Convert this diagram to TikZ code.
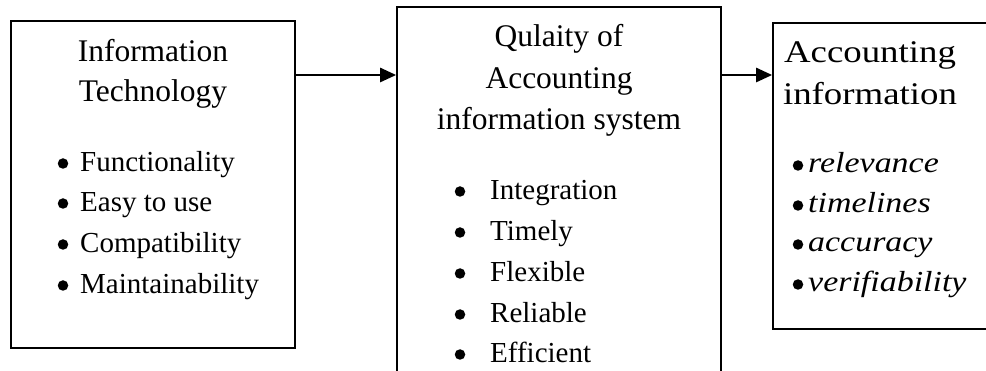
\documentclass[tikz,border=0pt]{standalone}
\usepackage{fontspec}
\setmainfont{Liberation Serif}
\newfontfamily\widefont[FakeStretch=1.17]{Liberation Serif}
\usetikzlibrary{arrows.meta}
\begin{document}
\begin{tikzpicture}[x=1pt,y=-1pt,
  box/.style={draw, line width=1.7pt, inner sep=0pt},
  ttl/.style={font=\fontsize{31.5}{38}\selectfont, inner sep=0pt, anchor=base},
  itm/.style={font=\fontsize{29}{35}\selectfont, inner sep=0pt, anchor=base west},
  dot/.style={circle, fill=black, inner sep=0pt, minimum size=10.5pt},
  wttl/.style={font=\widefont\fontsize{31.5}{38}\selectfont, inner sep=0pt, anchor=base},
  witm/.style={font=\widefont\itshape\fontsize{29}{35}\selectfont, inner sep=0pt, anchor=base west},
  conn/.style={line width=2.6pt, -{Triangle[length=16pt,width=14pt]}}]
\useasboundingbox (0,0) rectangle (986,371);
% boxes
\node[box, minimum width=284pt, minimum height=327pt] (b1) at (153,184.5) {};
\node[box, minimum width=324pt, minimum height=393pt] (b2) at (559,203.5) {};
\node[box, minimum width=227pt, minimum height=306pt] (b3) at (886.5,176) {};
% connectors
\draw[conn] (b1.east |- 0,75) -- (b2.west |- 0,75);
\draw[conn] (b2.east |- 0,75) -- (b3.west |- 0,75);
% box 1
\node[ttl] (t1a) at (153,62) {Information};
\node[ttl] (t1b) at (153,102) {Technology};
\foreach \y/\t [count=\i] in {172/Functionality,212/Easy to use,253/Compatibility,294/Maintainability}{
  \node[dot] (p1\i) at (63,\y-8.5) {};
  \node[itm] (i1\i) at (80,\y) {\t};
}
% box 2
\node[ttl] (t2a) at (559,47) {Qulaity of};
\node[ttl] (t2b) at (559,89) {Accounting};
\node[ttl] (t2c) at (559,130) {information system};
\foreach \y/\t [count=\i] in {200/Integration,241/Timely,282/Flexible,323/Reliable,363/Efficient}{
  \node[dot] (p2\i) at (460,\y-8.5) {};
  \node[itm] (i2\i) at (490,\y) {\t};
}
% box 3
\node[wttl] (t3a) at (870,63) {Accounting};
\node[wttl] (t3b) at (870,105) {information};
\foreach \y/\t [count=\i] in {173/relevance,213/timelines,252/accuracy,292/verifiability}{
  \node[dot] (p3\i) at (798,\y-7.5) {};
  \node[witm] (i3\i) at (808,\y) {\t};
}
\end{tikzpicture}
\end{document}
